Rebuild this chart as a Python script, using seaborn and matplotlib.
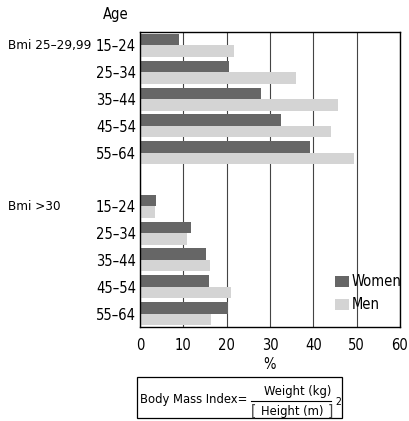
import pandas as pd
import matplotlib
matplotlib.use('Agg')
import matplotlib.pyplot as plt
import seaborn as sns
from matplotlib.patches import Rectangle
from matplotlib.lines import Line2D

ages = ['15–24', '25–34', '35–44', '45–54', '55–64']
groups = ['Bmi 25–29,99', 'Bmi >30']
women_overweight = [9.1, 20.6, 27.9, 32.6, 39.2]
men_overweight = [21.8, 36.0, 45.8, 44.1, 49.4]
women_obese = [3.7, 11.8, 15.3, 15.9, 20.2]
men_obese = [3.5, 10.8, 16.2, 20.9, 16.4]
sexes = ['Women', 'Men']
colors = ['#666666', '#d4d4d4']

rows = []
for g, w_vals, m_vals in [(groups[0], women_overweight, men_overweight),
                          (groups[1], women_obese, men_obese)]:
    for a, w, m in zip(ages, w_vals, m_vals):
        rows.append({'key': g + ' ' + a, 'sex': 'Women', 'pct': w})
        rows.append({'key': g + ' ' + a, 'sex': 'Men', 'pct': m})
df = pd.DataFrame(rows)

order = [groups[0] + ' ' + a for a in ages] + ['gap'] + [groups[1] + ' ' + a for a in ages]

plt.rcParams['font.family'] = ['DejaVu Sans']
plt.rcParams['font.stretch'] = 'condensed'
fs = 10.5
fig = plt.figure(figsize=(4.1, 4.21), dpi=100)
ax = fig.add_axes([0.3415, 0.2233, 0.634, 0.7007])

ax.set_axisbelow(True)
ax.grid(axis='x', color='#444444', linewidth=0.8)
sns.barplot(data=df, x='pct', y='key', hue='sex', order=order, hue_order=sexes,
            palette=colors, width=0.86, orient='h', ax=ax, saturation=1, edgecolor='none')

ax.set_xlim(0, 60)
ax.set_xticks(range(0, 61, 10))
ax.set_yticks(range(len(order)))
ax.set_yticklabels(ages + [''] + ages)
ax.tick_params(axis='both', length=0, labelsize=fs)
ax.tick_params(axis='x', pad=8)
ax.tick_params(axis='y', pad=3)
ax.set_xlabel('%', fontsize=fs, labelpad=3)
ax.set_ylabel('')
for s in ax.spines.values():
    s.set_visible(True)
    s.set_color('black')
    s.set_linewidth(1)

ax.legend(loc='lower right', bbox_to_anchor=(1.03, 0.03), frameon=False, fontsize=fs,
          handlelength=1.0, handleheight=0.8, handletextpad=0.2, labelspacing=0.55,
          borderaxespad=0)

fig.text(103 / 410, 1 - 15 / 421, 'Age', fontsize=fs, va='center', ha='left')
fig.text(8 / 410, 1 - 45 / 421, groups[0], fontsize=9.6, va='center', ha='left')
fig.text(8 / 410, 1 - 207 / 421, groups[1], fontsize=9.6, va='center', ha='left')

# formula box
ffs = 9.3
fig.patches.append(Rectangle((137 / 410, 1 - 418 / 421), 205 / 410, 41 / 421,
                             transform=fig.transFigure, fill=False, edgecolor='black', linewidth=0.9))
fig.text(140 / 410, 1 - 399 / 421, 'Body Mass Index=', fontsize=ffs, va='center', ha='left')
fig.text(298 / 410, 1 - 391 / 421, 'Weight (kg)', fontsize=ffs, va='center', ha='center')
fig.lines.append(Line2D([251 / 410, 331 / 410], [1 - 401 / 421, 1 - 401 / 421],
                        transform=fig.transFigure, color='black', linewidth=0.8))
fig.text(292 / 410, 1 - 411 / 421, 'Height (m)', fontsize=ffs, va='center', ha='center')
fig.text(251 / 410, 1 - 411 / 421, '[', fontsize=11, va='center', ha='left', color='#444444')
fig.text(333 / 410, 1 - 411 / 421, ']', fontsize=11, va='center', ha='right', color='#444444')
fig.text(335 / 410, 1 - 402 / 421, '2', fontsize=7.5, va='center', ha='left')

fig.savefig('out.png', dpi=100)
